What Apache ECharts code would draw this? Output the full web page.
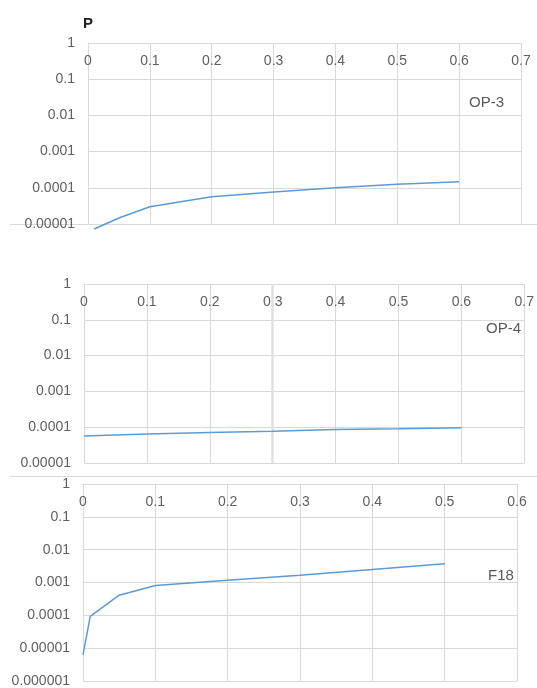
<!DOCTYPE html>
<html>
<head>
<meta charset="utf-8">
<script src="https://cdn.jsdelivr.net/npm/echarts@6/dist/echarts.min.js"></script>
<style>
  html, body { margin: 0; padding: 0; background: #fff; }
  #main { width: 537px; height: 688px; }
</style>
</head>
<body>
<div id="main"></div>
<script>
// 三个面板的数据（x: 横坐标, p: 纵坐标P值）
var op3X = [0.01, 0.05, 0.1, 0.2, 0.3, 0.4, 0.5, 0.6];
var op3P = [0.0000073, 0.0000147, 0.00003, 0.000057, 0.000077, 0.0001, 0.000125, 0.000147];

var op4X = [0, 0.1, 0.2, 0.3, 0.4, 0.5, 0.6];
var op4P = [0.000057, 0.000065, 0.000071, 0.000077, 0.000086, 0.00009, 0.000096];

var f18X = [0, 0.01, 0.05, 0.1, 0.2, 0.3, 0.4, 0.5];
var f18P = [0.0000062, 0.000093, 0.00041, 0.00081, 0.00118, 0.00167, 0.0025, 0.0037];

var panelNames = ['OP-3', 'OP-4', 'F18'];
var xMax = [0.7, 0.7, 0.6];
var yMin = [0.00001, 0.00001, 0.000001];

var myChart = echarts.init(document.getElementById('main'));

var gray = '#d9d9d9';
var labelColor = '#5f5f5f';
var font = 'Liberation Sans, Arial, sans-serif';

// 把数组拼成 [x, y] 对
function pairs(xs, ys) {
    return xs.map(function (x, i) { return [x, ys[i]]; });
}

// 对数坐标的刻度文字：1, 0.1, 0.01 ...
function logLabel(v) {
    var d = Math.max(0, -Math.round(Math.log10(v)));
    return Number(v).toFixed(d);
}

var grids = [
    { left: 88, top: 43, width: 433, height: 181 },
    { left: 84, top: 284, width: 443, height: 179 },
    { left: 83, top: 484, width: 434, height: 199 }
];

var xAxes = [], yAxes = [];
for (var i = 0; i < 3; i++) {
    xAxes.push({
        type: 'value',
        gridIndex: i,
        position: 'top',
        min: 0,
        max: xMax[i],
        interval: 0.1,
        axisLine: { show: true, lineStyle: { color: gray, width: 1 } },
        axisTick: { show: false },
        axisLabel: { inside: true, margin: 11, color: labelColor, fontSize: 14, fontFamily: font },
        splitLine: { show: true, lineStyle: { color: gray, width: 1 } }
    });
    yAxes.push({
        type: 'log',
        logBase: 10,
        gridIndex: i,
        min: yMin[i],
        max: 1,
        splitNumber: i === 2 ? 6 : 5,
        name: i === 0 ? 'P' : '',
        nameGap: 12,
        nameTextStyle: { color: '#222', fontSize: 15, fontWeight: 'bold', fontFamily: font },
        axisLine: { show: true, lineStyle: { color: gray, width: 1 } },
        axisTick: { show: false },
        axisLabel: { margin: 13, color: labelColor, fontSize: 14, fontFamily: font, formatter: logLabel },
        splitLine: { show: true, lineStyle: { color: gray, width: 1 } }
    });
}

var seriesData = [pairs(op3X, op3P), pairs(op4X, op4P), pairs(f18X, f18P)];
var series = seriesData.map(function (d, i) {
    var s = {
        name: panelNames[i],
        type: 'line',
        xAxisIndex: i,
        yAxisIndex: i,
        data: d,
        showSymbol: false,
        clip: false,
        z: 3,
        lineStyle: { color: '#5b9bd5', width: 1.5 }
    };
    // OP-4 图里 0.3 那条竖线比较粗
    if (i === 1) {
        s.markLine = {
            silent: true,
            symbol: 'none',
            label: { show: false },
            lineStyle: { color: '#e0e0e0', width: 2.5, type: 'solid', opacity: 1 },
            data: [{ xAxis: 0.3 }],
            z: 1
        };
    }
    return s;
});

var option = {
    backgroundColor: '#fff',
    animation: false,
    title: [
        { text: 'OP-3', left: 469, top: 95 },
        { text: 'OP-4', left: 486, top: 321 },
        { text: 'F18', left: 488, top: 568 }
    ].map(function (t) {
        t.textStyle = { color: '#595959', fontSize: 15, fontWeight: 'normal', fontFamily: font };
        t.padding = 0;
        return t;
    }),
    grid: grids,
    xAxis: xAxes,
    yAxis: yAxes,
    series: series,
    graphic: [
        { type: 'line', shape: { x1: 10, y1: 224.5, x2: 537, y2: 224.5 }, style: { stroke: gray, lineWidth: 1 } },
        { type: 'line', shape: { x1: 10, y1: 476.5, x2: 537, y2: 476.5 }, style: { stroke: gray, lineWidth: 1 } }
    ]
};

myChart.setOption(option);
</script>
</body>
</html>
